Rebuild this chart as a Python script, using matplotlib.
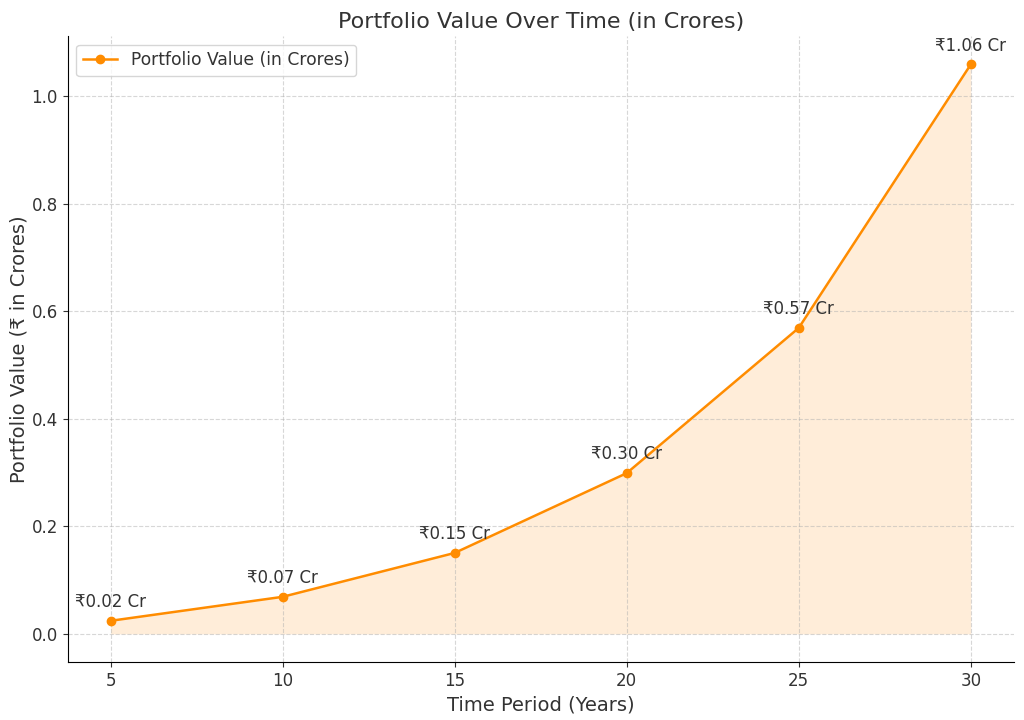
import matplotlib
matplotlib.use("Agg")
import matplotlib.pyplot as plt

# данные
years = [5, 10, 15, 20, 25, 30]
values = [0.0244, 0.069, 0.1506, 0.299, 0.569, 1.059]
labels = ["₹0.02 Cr", "₹0.07 Cr", "₹0.15 Cr", "₹0.30 Cr", "₹0.57 Cr", "₹1.06 Cr"]

txt = "#333333"
plt.rcParams["text.color"] = txt
plt.rcParams["axes.labelcolor"] = txt
plt.rcParams["xtick.color"] = txt
plt.rcParams["ytick.color"] = txt

fig, ax = plt.subplots(figsize=(10.24, 7.2), dpi=100)

ax.plot(years, values, marker="o", color="darkorange", linewidth=1.8,
        markersize=6, label="Portfolio Value (in Crores)")
ax.fill_between(years, values, color="darkorange", alpha=0.15, linewidth=0)

for x, y, s in zip(years, values, labels):
    ax.annotate(s, (x, y), textcoords="offset points", xytext=(0, 10),
                ha="center", fontsize=12)

ax.set_title("Portfolio Value Over Time (in Crores)", fontsize=16)
ax.set_xlabel("Time Period (Years)", fontsize=14)
ax.set_ylabel("Portfolio Value (₹ in Crores)", fontsize=14, labelpad=2)
ax.tick_params(labelsize=12)
ax.set_xticks(years)
ax.grid(True, linestyle="--", alpha=0.5)
ax.spines["top"].set_visible(False)
ax.spines["right"].set_visible(False)
ax.legend(loc="upper left", fontsize=12.3)

fig.subplots_adjust(left=0.066, right=0.99, top=0.95, bottom=0.08)
fig.savefig("out.png")
